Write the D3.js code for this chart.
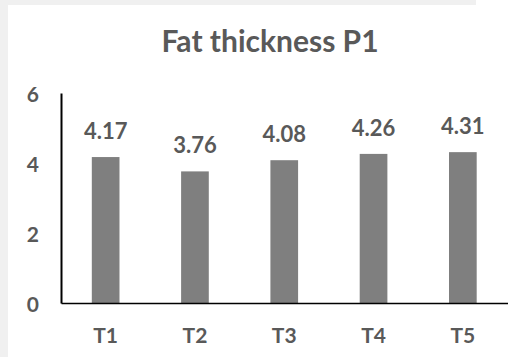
<!DOCTYPE html>
<html>
<head>
<meta charset="utf-8">
<script src="https://cdn.jsdelivr.net/npm/d3@7"></script>
<style>
  html, body { margin: 0; padding: 0; background: #ffffff; }
  svg { display: block; }
  text { font-family: Lato, "Open Sans", sans-serif; fill: #595959; }
</style>
</head>
<body>
<script>
// Treatment groups and mean fat thickness at point P1
const categories = ["T1", "T2", "T3", "T4", "T5"];
const values = [4.17, 3.76, 4.08, 4.26, 4.31];
const yTicks = [0, 2, 4, 6];
const chartTitle = "Fat thickness P1";

const W = 525, H = 357;
const svg = d3.select("body").append("svg").attr("width", W).attr("height", H);

// light frame strips along the left and top edges
svg.append("rect").attr("x", 0).attr("y", 0).attr("width", 8).attr("height", H).attr("fill", "#f0f0f0");
svg.append("rect").attr("x", 0).attr("y", 0).attr("width", 476).attr("height", 5).attr("fill", "#f0f0f0");

const x = d3.scaleBand().domain(categories).range([61, 507.5]).paddingInner(0.69).paddingOuter(0.345);
const y = d3.scaleLinear().domain([0, 6]).range([303, 93]);

// title
svg.append("text")
  .attr("x", 270).attr("y", 52)
  .attr("text-anchor", "middle")
  .attr("font-size", 30).attr("font-weight", 700)
  .text(chartTitle);

// bars
svg.selectAll("rect.bar").data(values).enter().append("rect")
  .attr("class", "bar")
  .attr("x", (d, i) => x(categories[i]))
  .attr("y", d => y(d))
  .attr("width", x.bandwidth())
  .attr("height", d => y(0) - y(d))
  .attr("fill", "#7f7f7f");

// value labels
svg.selectAll("text.val").data(values).enter().append("text")
  .attr("class", "val")
  .attr("x", (d, i) => x(categories[i]) + x.bandwidth() / 2)
  .attr("y", d => y(d) - 18)
  .attr("text-anchor", "middle")
  .attr("font-size", 22).attr("font-weight", 700)
  .text(d => d.toFixed(2));

// y axis: line only, labels on the left
const yAxis = d3.axisLeft(y).tickValues(yTicks).tickSize(0).tickPadding(22).tickFormat(d3.format("d"));
const gy = svg.append("g").attr("transform", "translate(61,0)").call(yAxis);
gy.select(".domain").attr("stroke", "#000").attr("stroke-width", 2);
gy.selectAll("text").attr("font-size", 21).attr("font-weight", 700).attr("dy", "0.42em")
  .attr("font-family", "Lato, 'Open Sans', sans-serif").attr("fill", "#595959");

// x axis
const xAxis = d3.axisBottom(x).tickSize(0).tickPadding(25);
const gx = svg.append("g").attr("transform", "translate(0,303)").call(xAxis);
gx.select(".domain").attr("stroke", "#000").attr("stroke-width", 1.6);
gx.selectAll("text").attr("font-size", 21).attr("font-weight", 700)
  .attr("font-family", "Lato, 'Open Sans', sans-serif").attr("fill", "#595959");
</script>
</body>
</html>
